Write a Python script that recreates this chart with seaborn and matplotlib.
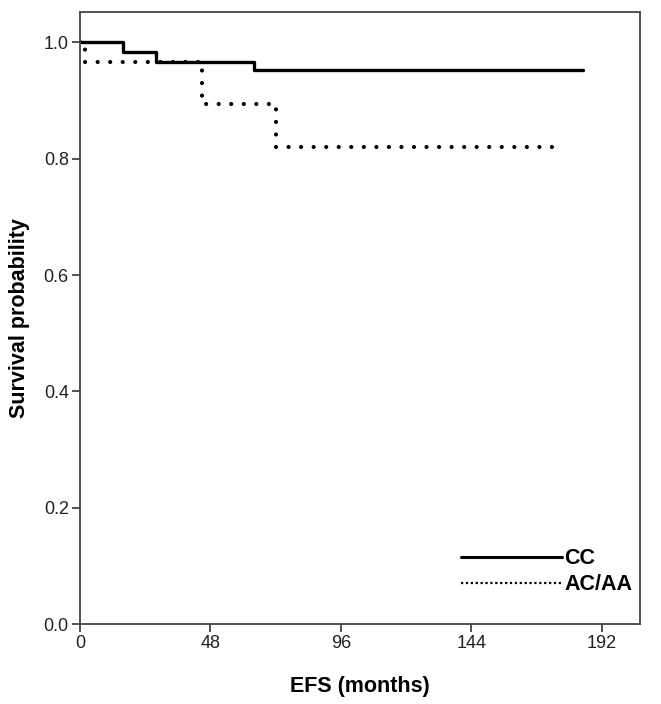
import matplotlib
matplotlib.use("Agg")
import matplotlib.pyplot as plt
from matplotlib.lines import Line2D
import numpy as np
import seaborn as sns
import pandas as pd

# Kaplan-Meier steps
cc_time = [0, 16, 28, 64, 185]
cc_surv = [1.0, 0.983, 0.967, 0.952, 0.952]
ac_time = [0, 2, 45, 72, 178]
ac_surv = [1.0, 0.966, 0.895, 0.820, 0.820]
groups = ["CC", "AC/AA"]
x_ticks = [0, 48, 96, 144, 192]
y_ticks = [0.0, 0.2, 0.4, 0.6, 0.8, 1.0]

df = pd.concat([
    pd.DataFrame({"time": cc_time, "surv": cc_surv, "group": groups[0]}),
    pd.DataFrame({"time": ac_time, "surv": ac_surv, "group": groups[1]}),
])

sns.set_theme(style="white")
plt.rcParams["font.family"] = ["Liberation Sans", "DejaVu Sans"]
plt.rcParams["text.color"] = "black"
plt.rcParams["axes.labelcolor"] = "black"

fig = plt.figure(figsize=(6.61, 7.04), dpi=100)
ax = fig.add_axes([0.121, 0.1136, 0.847, 0.869])

sns.lineplot(data=df[df.group == "CC"], x="time", y="surv", color="black",
             drawstyle="steps-post", estimator=None, sort=False, lw=2.4, ax=ax)
sns.lineplot(data=df[df.group == "AC/AA"], x="time", y="surv", color="black",
             drawstyle="steps-post", estimator=None, sort=False, lw=3.0,
             linestyle=(0, (0.01, 3.0)), dash_capstyle="round", ax=ax)

ax.set_xlim(0, 206)
ax.set_ylim(0, 1.052)
ax.set_xticks(x_ticks)
ax.set_yticks(y_ticks)
ax.set_yticklabels([f"{v:.1f}" for v in y_ticks])
ax.tick_params(axis="both", direction="out", length=6, width=1.2, color="#333333",
               labelsize=13, labelcolor="#222222", bottom=True, left=True, pad=2)
for s in ax.spines.values():
    s.set_color("#444444")
    s.set_linewidth(1.3)

ax.set_xlabel("EFS (months)", fontsize=15.5, fontweight="bold", labelpad=17)
ax.set_ylabel("Survival probability", fontsize=15.5, fontweight="bold", labelpad=10)

handles = [Line2D([], [], color="black", lw=2.2),
           Line2D([], [], color="black", lw=1.6, linestyle=(0, (1, 1.2)))]
ax.legend(handles, groups, loc="lower right", bbox_to_anchor=(1.021, 0.015),
          frameon=False, handlelength=4.7, handletextpad=0.1,
          labelspacing=0.25, prop={"size": 15.5, "weight": "bold"})

fig.savefig("out.png", dpi=100)
